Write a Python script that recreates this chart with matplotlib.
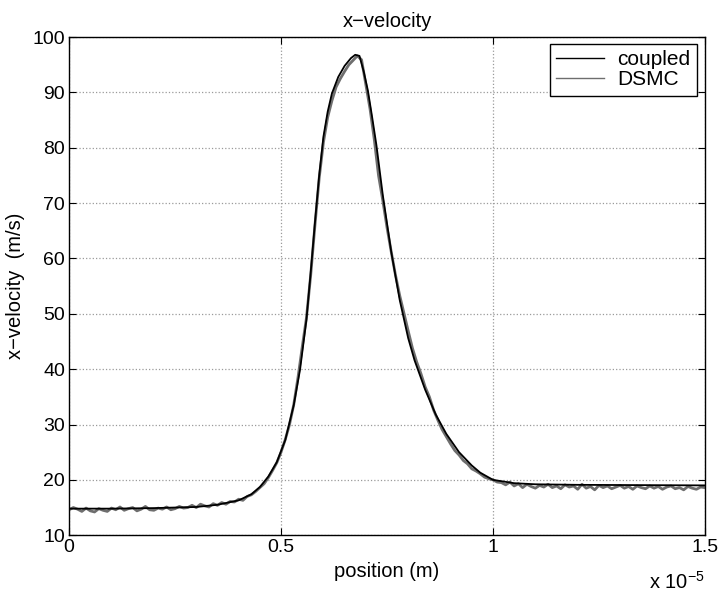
import numpy as np
import matplotlib
matplotlib.use("Agg")
import matplotlib.pyplot as plt

plt.rcParams['font.family'] = ['Liberation Sans', 'DejaVu Sans']
plt.rcParams['mathtext.fontset'] = 'custom'
plt.rcParams['mathtext.rm'] = 'Liberation Sans'

# position in units of 1e-5 m
coupled_x = [0.00, 0.10, 0.20, 0.30, 0.35, 0.40, 0.43, 0.45, 0.47, 0.49,
             0.51, 0.53, 0.545, 0.56, 0.57, 0.58, 0.59, 0.60, 0.61, 0.62,
             0.635, 0.65, 0.665, 0.675, 0.685, 0.695, 0.705, 0.715, 0.725, 0.74,
             0.76, 0.78, 0.80, 0.815, 0.84, 0.865, 0.89, 0.92, 0.95, 0.97,
             1.00, 1.05, 1.10, 1.20, 1.35, 1.50]
coupled_v = [14.8, 14.8, 14.9, 15.1, 15.5, 16.3, 17.4, 18.7, 20.6, 23.2,
             27.2, 33.5, 40.0, 49.0, 57.5, 66.5, 75.0, 82.0, 86.5, 89.8,
             92.8, 94.8, 96.2, 96.8, 96.6, 93.8, 90.3, 85.5, 80.5, 71.5,
             61.2, 52.5, 45.6, 41.6, 36.3, 31.8, 28.3, 25.0, 22.6, 21.3,
             20.0, 19.4, 19.2, 19.1, 19.05, 19.0]

# DSMC samples every 0.01e-5 m from 0 to 1.5e-5 m
dsmc_x = np.linspace(0.0, 1.5, 151)
dsmc_v = [14.6, 15.0, 14.7, 14.3, 14.9, 14.4, 14.2, 14.8, 14.5, 14.3,
          14.9, 14.6, 15.1, 14.5, 14.8, 15.0, 14.4, 14.7, 15.2, 14.6,
          14.5, 14.9, 14.7, 15.1, 14.6, 14.8, 15.2, 14.9, 15.0, 15.4,
          15.0, 15.6, 15.3, 15.1, 15.7, 15.4, 15.9, 15.6, 16.1, 16.0,
          16.5, 16.3, 17.0, 17.3, 17.9, 18.6, 19.3, 20.4, 21.7, 23.1,
          25.0, 27.3, 30.0, 33.6, 38.5, 44.0, 49.3, 57.0, 66.0, 74.5,
          81.0, 85.5, 88.5, 91.0, 92.5, 93.8, 95.0, 95.8, 96.6, 95.9,
          91.5, 87.0, 81.5, 75.0, 70.5, 65.6, 61.2, 57.0, 53.3, 50.1,
          46.9, 43.8, 41.3, 39.2, 36.8, 35.0, 32.6, 30.8, 29.1, 27.8,
          26.5, 25.3, 24.5, 23.5, 22.9, 22.0, 21.6, 21.1, 20.5, 20.2,
          20.0, 19.6, 19.5, 19.1, 19.6, 18.9, 19.3, 18.6, 19.2, 18.8,
          18.5, 19.0, 18.7, 19.2, 18.6, 18.9, 18.4, 19.1, 18.7, 18.9,
          18.3, 19.2, 18.5, 18.8, 18.2, 19.0, 18.6, 18.9, 18.4, 18.7,
          19.0, 18.5, 18.8, 18.3, 18.9, 18.6, 18.4, 18.9, 18.5, 18.8,
          18.3, 18.7, 18.9, 18.4, 18.6, 18.2, 18.8, 18.5, 18.3, 18.7,
          18.6]

x_ticks = [0, 0.5, 1, 1.5]
x_tick_labels = ['0', '0.5', '1', '1.5']
y_ticks = [10, 20, 30, 40, 50, 60, 70, 80, 90, 100]

fig = plt.figure(figsize=(7.2, 5.98), dpi=100)
ax = fig.add_axes([0.096, 0.105, 0.883, 0.833])

ax.plot(coupled_x, coupled_v, color='black', lw=1.3, label='coupled', zorder=3)
ax.plot(dsmc_x, dsmc_v, color='#6e6e6e', lw=2.0, label='DSMC', zorder=2)

ax.set_xlim(0, 1.5)
ax.set_ylim(10, 100)
ax.set_xticks(x_ticks)
ax.set_xticklabels(x_tick_labels)
ax.set_yticks(y_ticks)

ax.grid(True, linestyle=':', color='#9a9a9a', lw=0.9)
ax.tick_params(direction='in', length=5, width=0.8, top=True, right=True,
               labelsize=14, pad=3, colors='black')
for s in ax.spines.values():
    s.set_linewidth(1.0)

ax.set_title('x\u2212velocity', fontsize=14.5, pad=7)
ax.set_xlabel('position (m)', fontsize=14.5, labelpad=4)
ax.set_ylabel('x\u2212velocity  (m/s)', fontsize=14.5, labelpad=5)

leg = ax.legend(loc='upper right', bbox_to_anchor=(0.987, 0.986), borderaxespad=0,
                fancybox=False, edgecolor='black', framealpha=1, fontsize=15,
                handlelength=2.3, handletextpad=0.65, borderpad=0.3, labelspacing=0.05)
leg.get_frame().set_linewidth(1.0)
for h in leg.get_lines():
    h.set_linewidth(1.0)

fig.text(0.979, 0.015, r'x 10$^{\mathregular{-5}}$', ha='right', va='baseline', fontsize=14.5)

fig.savefig('out.png', dpi=100)
